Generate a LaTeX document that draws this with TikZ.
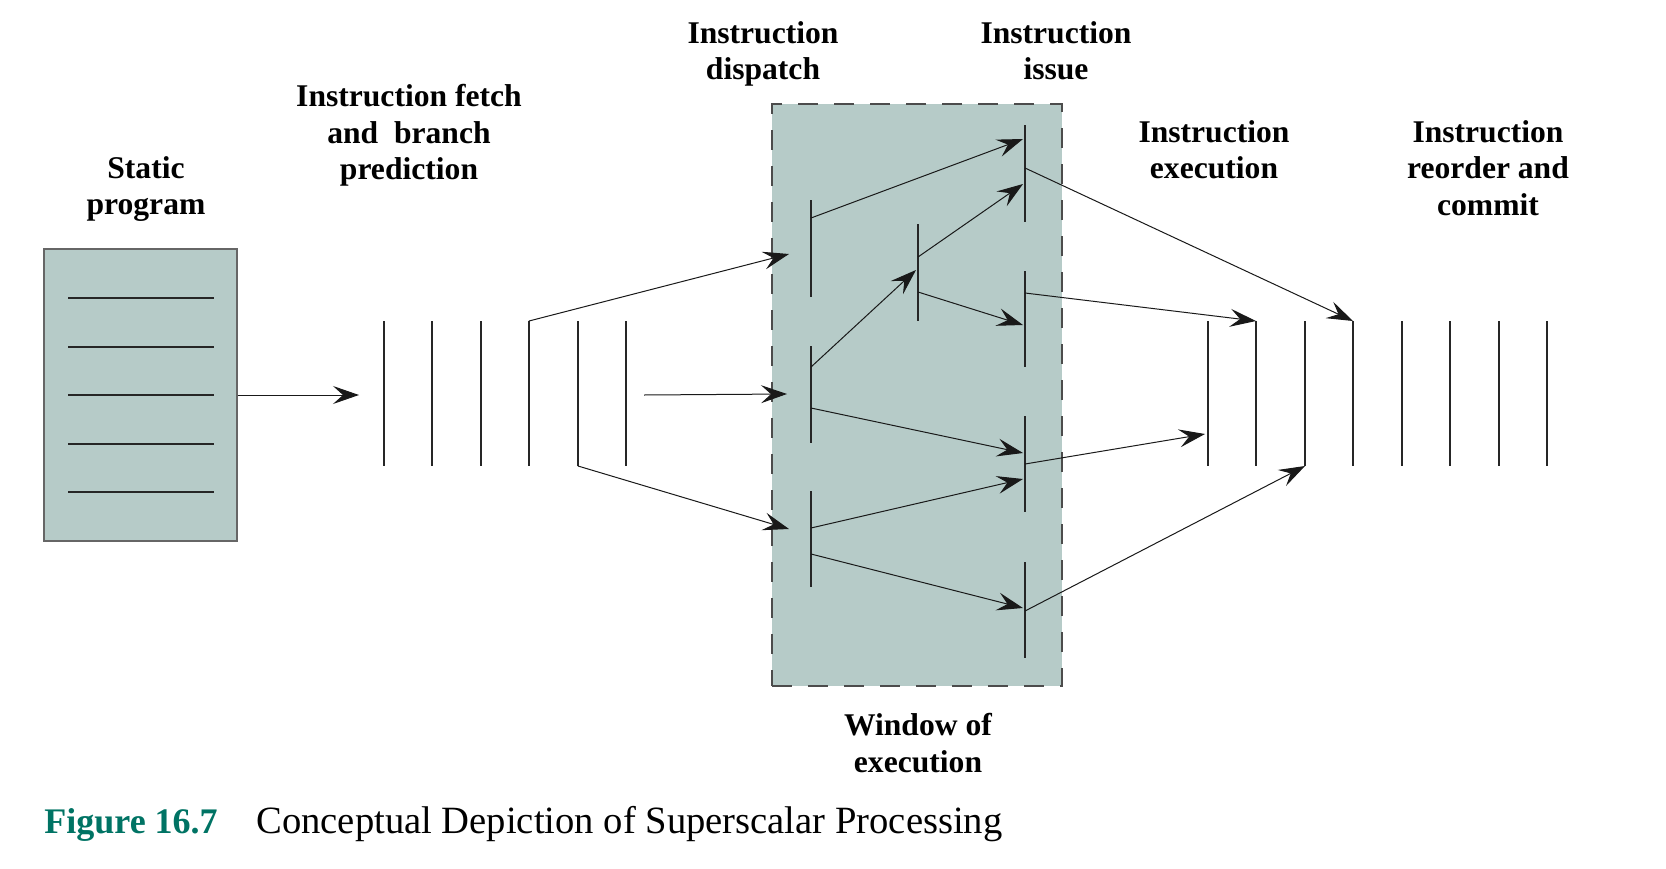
\documentclass[tikz,border=0pt]{standalone}
\usepackage{fontspec}
\setmainfont{Liberation Serif}
\usepackage{xcolor}
\usepackage{tikz}
\usetikzlibrary{positioning,%
  arrows.meta,%
  calc
}

\definecolor{boxfill}{RGB}{182,203,200}
\definecolor{figteal}{RGB}{0,115,100}

\tikzset{
  bar/.style={draw=black!85, line width=0.6pt},
  flow/.style={draw=black!90, line width=0.5pt,
    -{Stealth[length=13pt,width=9pt,inset=5pt]}},
  lbl/.style={anchor=north, inner sep=0pt, align=center,
    font=\bfseries\fontsize{15.8}{18.25}\selectfont},
  progbox/.style={draw=black!60, line width=0.6pt, fill=boxfill,
    minimum width=96.5pt, minimum height=146pt, inner sep=0pt},
  winbox/.style={draw=black!70, line width=0.6pt, fill=boxfill,
    dash pattern=on 10pt off 8pt,
    minimum width=145pt, minimum height=291pt, inner sep=0pt}
}

\begin{document}
\begin{tikzpicture}[x=0.5pt,y=-0.5pt]
  \useasboundingbox (0,0) rectangle (1666,868);

  % static program
  \node[progbox] (prog) at (140.5,395) {};
  \foreach \y in {298,347,395,444,492}
    \draw[bar] (68,\y) -- (214,\y);

  % window of execution
  \node[winbox] (win) at (917,395) {};

  % fetch buffer
  \foreach \x [count=\i] in {384,432,481,529,578,626}
    \draw[bar] (\x,321) coordinate (f\i-t) -- (\x,466) coordinate (f\i-b);

  % dispatch, middle and issue bars
  \draw[bar] (811,200) -- (811,297);
  \draw[bar] (811,346) -- (811,443);
  \draw[bar] (811,491) -- (811,587);
  \draw[bar] (918,224) -- (918,321);
  \foreach \yt/\yb in {125/222,271/367,416/512,562/658}
    \draw[bar] (1025,\yt) -- (1025,\yb);

  % execute / reorder buffer
  \foreach \x [count=\i] in {1208,1256,1305,1353,1402,1450,1499,1547}
    \draw[bar] (\x,321) coordinate (r\i-t) -- (\x,466) coordinate (r\i-b);

  % points on the bars
  \coordinate (fin) at (359,395);
  \coordinate (fout) at (644,395);
  \coordinate (din1) at (789,254);
  \coordinate (din2) at (787,394);
  \coordinate (din3) at (789,529);
  \coordinate (d1) at (811,218);
  \coordinate (d2a) at (811,367);
  \coordinate (d2b) at (811,408);
  \coordinate (d3a) at (811,528);
  \coordinate (d3b) at (811,554);
  \coordinate (min) at (916,270);
  \coordinate (m1) at (918,257);
  \coordinate (m2) at (918,292);
  \coordinate (i1a) at (1023,139);
  \coordinate (i1b) at (1023,184);
  \coordinate (i2a) at (1023,325);
  \coordinate (i3a) at (1023,453);
  \coordinate (i3b) at (1023,479);
  \coordinate (i4a) at (1023,608);
  \coordinate (i1) at (1025,168);
  \coordinate (i2) at (1025,293);
  \coordinate (i3) at (1025,464);
  \coordinate (i4) at (1025,611);
  \coordinate (rin) at (1205,434);

  % arrows
  \draw[flow] (prog.east) -- (fin);
  \draw[flow] (f4-t) -- (din1);
  \draw[flow] (fout) -- (din2);
  \draw[flow] (f5-b) -- (din3);

  \draw[flow] (d1) -- (i1a);
  \draw[flow] (d2a) -- (min);
  \draw[flow] (m1) -- (i1b);
  \draw[flow] (m2) -- (i2a);
  \draw[flow] (d2b) -- (i3a);
  \draw[flow] (d3a) -- (i3b);
  \draw[flow] (d3b) -- (i4a);

  \draw[flow] (i1) -- (r4-t);
  \draw[flow] (i2) -- (r2-t);
  \draw[flow] (i3) -- (rin);
  \draw[flow] (i4) -- (r3-b);

  % labels
  \node[lbl] (lstatic) at (146,156) {Static\\program};
  \node[lbl] (lfetch) at (409,84) {Instruction fetch\\and\ \ branch\\prediction};
  \node[lbl] (ldisp) at (763,21) {Instruction\\dispatch};
  \node[lbl] (lissue) at (1056,21) {Instruction\\issue};
  \node[lbl] (lexec) at (1214,120) {Instruction\\execution};
  \node[lbl] (lreord) at (1488,120) {Instruction\\reorder and\\commit};
  \node[lbl] (lwin) at (918,713) {Window of\\execution};

  % caption
  \node[anchor=base west, inner sep=0pt, text=figteal,
    font=\bfseries\fontsize{18}{22}\selectfont] (fignum) at (44,833) {Figure 16.7};
  \node[anchor=base west, inner sep=0pt,
    font=\fontsize{19.3}{23}\selectfont] (figtitle) at (256,833)
    {Conceptual Depiction of Superscalar Processing};
\end{tikzpicture}
\end{document}
